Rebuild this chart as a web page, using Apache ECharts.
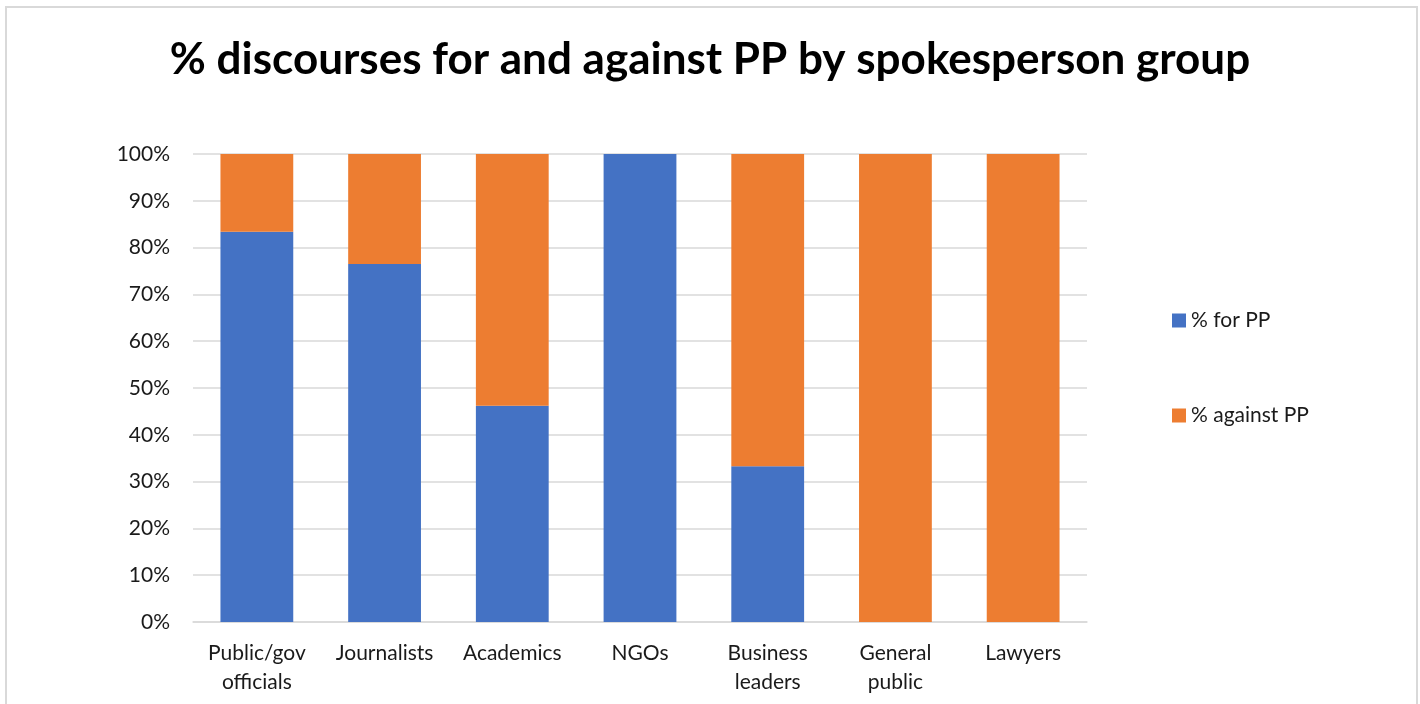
<!DOCTYPE html>
<html>
<head>
<meta charset="utf-8">
<title>% discourses for and against PP</title>
<script src="https://cdn.jsdelivr.net/npm/echarts@6/dist/echarts.min.js"></script>
<style>
  html, body { margin: 0; padding: 0; background: #fff; }
  #main { width: 1420px; height: 704px; }
</style>
</head>
<body>
<div id="main"></div>
<script>
// data
var categories = ['Public/gov officials', 'Journalists', 'Academics', 'NGOs', 'Business leaders', 'General public', 'Lawyers'];
var forPP = [83.4, 76.5, 46.2, 100, 33.3, 0, 0];
var againstPP = [16.6, 23.5, 53.8, 0, 66.7, 100, 100];
var yTicks = [0, 10, 20, 30, 40, 50, 60, 70, 80, 90, 100];

var font = 'Lato, "Noto Sans", sans-serif';
var chart = echarts.init(document.getElementById('main'));

var option = {
    backgroundColor: '#fff',
    animation: false,
    title: {
        text: '% discourses for and against PP by spokesperson group',
        left: 'center',
        top: 33,
        textStyle: { fontFamily: font, fontSize: 44, fontWeight: 'bold', color: '#000' }
    },
    grid: { left: 193, right: 333, top: 154, bottom: 82, containLabel: false },
    legend: [
        {
            data: ['% for PP'], orient: 'vertical', left: 1167, top: 305,
            itemWidth: 14, itemHeight: 14, icon: 'rect',
            textStyle: { fontFamily: font, fontSize: 21, color: '#1a1a1a' }
        },
        {
            data: ['% against PP'], orient: 'vertical', left: 1167, top: 400,
            itemWidth: 14, itemHeight: 14, icon: 'rect',
            textStyle: { fontFamily: font, fontSize: 21, color: '#1a1a1a' }
        }
    ],
    xAxis: {
        type: 'category',
        data: categories,
        axisLine: { show: true, lineStyle: { color: '#d9d9d9', width: 1.5 } },
        axisTick: { show: false },
        axisLabel: {
            fontFamily: font, fontSize: 21, color: '#1a1a1a', margin: 17, lineHeight: 29,
            interval: 0,
            formatter: function (v) { return v.replace(' ', '\n'); }
        }
    },
    yAxis: {
        type: 'value',
        min: yTicks[0],
        max: yTicks[yTicks.length - 1],
        interval: 10,
        axisLine: { show: false },
        axisTick: { show: false },
        splitLine: { lineStyle: { color: '#d9d9d9', width: 1.5 } },
        axisLabel: {
            fontFamily: font, fontSize: 21, color: '#1a1a1a', margin: 23,
            formatter: '{value}%'
        }
    },
    series: [
        {
            name: '% for PP', type: 'bar', stack: 'total', barWidth: '57%',
            itemStyle: { color: '#4472C4' },
            data: forPP
        },
        {
            name: '% against PP', type: 'bar', stack: 'total', barWidth: '57%',
            itemStyle: { color: '#ED7D31' },
            data: againstPP
        }
    ],
    graphic: [
        {
            type: 'rect', silent: true, z: -1,
            shape: { x: 6, y: 7, width: 1411, height: 710 },
            style: { fill: null, stroke: '#d9d9d9', lineWidth: 2 }
        }
    ]
};
chart.setOption(option);
</script>
</body>
</html>
